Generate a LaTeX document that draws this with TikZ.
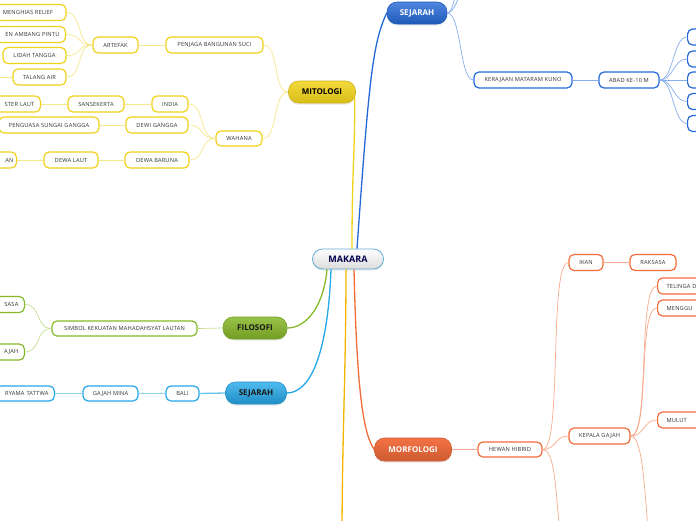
\documentclass[tikz,border=0pt]{standalone}
\usepackage{fontspec}
\setmainfont{Open Sans}
\newfontfamily\subf[LetterSpace=3]{Open Sans}
\usetikzlibrary{shadows}
\definecolor{yb}{HTML}{F0D21A}\definecolor{yl}{HTML}{F6E68A}
\definecolor{bb}{HTML}{2469D8}\definecolor{bl}{HTML}{86AEEC}
\definecolor{gb}{HTML}{86B828}\definecolor{gl}{HTML}{C4DE8C}
\definecolor{lb}{HTML}{24A8E8}\definecolor{ll}{HTML}{8DD3F3}
\definecolor{ob}{HTML}{F26B3A}\definecolor{ol}{HTML}{F7AA8C}
\definecolor{amb}{HTML}{F4B400}
\begin{document}
\begin{tikzpicture}[x=1pt,y=-1pt,
  sub/.style={draw, line width=1.2pt, fill=white, rounded corners=5pt, minimum height=16pt,
    inner xsep=4pt, inner ysep=0pt, font=\subf\fontsize{5.7}{6.5}\selectfont, text=black!80},
  cutl/.style={anchor=east, text width=#1, align=right, inner xsep=6pt},
  cutr/.style={anchor=west, text width=44pt, align=left, inner xsep=9pt},
  mainn/.style={rounded corners=10pt, minimum height=22pt, inner ysep=0pt,
    font=\bfseries\fontsize{8}{9}\selectfont, line width=0.6pt,
    drop shadow={opacity=0.18, shadow xshift=0pt, shadow yshift=-1.5pt}},
  lk/.style={line width=0.7pt},
  lc/.style={to path={.. controls +(-#1,0) and +(#1,0) .. (\tikztotarget)}},
  lc/.default=14,
  rc/.style={to path={.. controls +(#1,0) and +(-#1,0) .. (\tikztotarget)}},
  rc/.default=14]
\useasboundingbox (0,0) rectangle (696,520);
\coordinate (ambend) at (342,540);
\coordinate (s1) at (472,-22);
\coordinate (s2) at (468,-48);
\coordinate (m1) at (572,560);
\coordinate (m2) at (662,580);
% ---------- central node ----------
\node[draw=lb!80!black!70, line width=0.8pt, rounded corners=10pt, top color=white, bottom color=black!14,
  minimum width=71pt, minimum height=20pt, text=blue!30!black, font=\bfseries\fontsize{9}{10}\selectfont,
  drop shadow={opacity=0.15, shadow xshift=0pt, shadow yshift=-1.5pt}] (M) at (348,259) {MAKARA};
% ---------- main topics ----------
\node[mainn, draw=yb!85!black, top color=yb!85!white, bottom color=yb!90!black, minimum width=67pt, text=black] (MIT) at (322,92) {MITOLOGI};
\node[mainn, draw=bb!85!black, top color=bb!80!white, bottom color=bb!85!black, minimum width=60pt, text=white] (SEJ1) at (417,13) {SEJARAH};
\node[mainn, draw=gb!85!black, top color=gb!85!white, bottom color=gb!85!black, minimum width=64pt, text=black!90] (FIL) at (255,328) {FILOSOFI};
\node[mainn, draw=lb!85!black, top color=lb!80!white, bottom color=lb!85!black, minimum width=61pt, text=black!90] (SEJ2) at (256,393) {SEJARAH};
\node[mainn, draw=ob!85!black, top color=ob!95!white, bottom color=ob!85!black, minimum width=77pt, minimum height=23pt, text=white] (MOR) at (413,449.5) {MORFOLOGI};
% main branches
\draw[yb, line width=1.3pt] ([xshift=4pt]M.north) .. controls +(0,-80) and +(0,60) .. ([xshift=-1pt,yshift=-5pt]MIT.east);
\draw[bb, line width=1.3pt] ([xshift=9pt]M.north) .. controls +(12,-170) and +(-14,30) .. (SEJ1.west);
\draw[gb, line width=1.3pt] ([xshift=-21pt]M.south) .. controls +(-3,35) and +(20,0) .. (FIL.east);
\draw[lb, line width=1.3pt] ([xshift=-17pt]M.south) .. controls +(-3,80) and +(25,0) .. (SEJ2.east);
\draw[ob, line width=1.3pt] ([xshift=6pt]M.south) .. controls +(3,130) and +(-10,-15) .. (MOR.west);
\draw[amb, line width=1.3pt] ([xshift=-2pt]M.south) .. controls +(0,100) and +(0,-100) .. (ambend);
% ---------- MITOLOGI subtree ----------
\begin{scope}[every node/.style={sub, draw=yb}]
\node[minimum width=97pt] (pbs) at (214.5,45) {PENJAGA BANGUNAN SUCI};
\node[minimum width=45pt] (art) at (115.5,45) {ARTEFAK};
\node[minimum width=76pt] (mr) at (28,12.5) {MENGHIAS RELIEF};
\node[cutl=70pt] (eap) at (66,34.5) {EN AMBANG PINTU};
\node[minimum width=63pt] (lt) at (34.5,55.5) {LIDAH TANGGA};
\node[minimum width=53pt] (ta) at (39.5,77) {TALANG AIR};
\node[minimum width=46pt, minimum height=15pt] (wah) at (239,138.5) {WAHANA};
\node[minimum width=36pt] (ind) at (170,104) {INDIA};
\node[minimum width=56pt] (san) at (96,104) {SANSEKERTA};
\node[cutl=50pt] (stl) at (41,104) {STER LAUT};
\node[minimum width=62pt] (dg) at (157,125) {DEWI GANGGA};
\node[minimum width=100pt] (psg) at (49,125) {PENGUASA SUNGAI GANGGA};
\node[minimum width=64pt] (db) at (157,160) {DEWA BARUNA};
\node[minimum width=54pt] (dl) at (71,160) {DEWA LAUT};
\node[cutl=30pt, inner xsep=3pt] (an) at (17,160) {AN};
\end{scope}
\coordinate (tlx) at (-12,77);
\begin{scope}[yl, lk]
\draw (MIT.west) to[lc=16] (pbs.east);
\draw (MIT.west) to[lc=16] (wah.east);
\draw (pbs.west) -- (art.east);
\draw (art.west) to[lc=16] (mr.east);
\draw (art.west) to[lc=16] (eap.east);
\draw (art.west) to[lc=16] (lt.east);
\draw (art.west) to[lc=16] (ta.east);
\draw (ta.west) -- (tlx);
\draw (wah.west) to[lc=16] (ind.east);
\draw (wah.west) to[lc=16] (dg.east);
\draw (wah.west) to[lc=16] (db.east);
\draw (ind.west) -- (san.east);
\draw (san.west) -- (stl.east);
\draw (dg.west) -- (psg.east);
\draw (db.west) -- (dl.east);
\draw (dl.west) -- (an.east);
\end{scope}
% ---------- FILOSOFI subtree ----------
\begin{scope}[every node/.style={sub, draw=gb}]
\node[minimum width=145pt, minimum height=15pt] (skml) at (124.5,328.5) {SIMBOL KEKUATAN MAHADAHSYAT LAUTAN};
\node[cutl=40pt] (sasa) at (25,304.5) {SASA};
\node[cutl=40pt] (ajah) at (25,352) {AJAH};
\end{scope}
\begin{scope}[gl, lk]
\draw (FIL.west) -- (skml.east);
\draw (skml.west) to[lc=16] (sasa.east);
\draw (skml.west) to[lc=16] (ajah.east);
\end{scope}
% ---------- SEJARAH (bottom) subtree ----------
\begin{scope}[every node/.style={sub, draw=lb, minimum height=15pt}]
\node[minimum width=33pt] (bali) at (182.5,393.5) {BALI};
\node[minimum width=55pt] (gm) at (110.5,393.5) {GAJAH MINA};
\node[cutl=64pt] (rt) at (55,393.5) {RYAMA TATTWA};
\end{scope}
\draw[lb!70!white, line width=1.3pt] (SEJ2.west) -- (bali.east);
\draw[ll, lk] (bali.west) -- (gm.east);
\draw[ll, lk] (gm.west) -- (rt.east);
% ---------- SEJARAH (top) subtree ----------
\begin{scope}[every node/.style={sub, draw=bb}]
\node[minimum width=98pt] (kmk) at (523,80) {KERAJAAN MATARAM KUNO};
\node[minimum width=60pt] (abad) at (629,80) {ABAD KE-10 M};
\node[minimum width=30pt, anchor=west] (b1) at (687,37) {};
\node[minimum width=30pt, anchor=west] (b2) at (687,59) {};
\node[minimum width=30pt, anchor=west] (b3) at (687,80) {};
\node[minimum width=30pt, anchor=west] (b4) at (687,101.5) {};
\node[minimum width=30pt, anchor=west] (b5) at (687,123.5) {};
\end{scope}
\begin{scope}[bl, lk]
\draw (SEJ1.east) to[rc=14] (kmk.west);
\draw (SEJ1.east) to[rc=10] (s1);
\draw (SEJ1.east) to[rc=10] (s2);
\draw (kmk.east) -- (abad.west);
\foreach \b in {b1,b2,b3,b4,b5} \draw (abad.east) to[rc=14] (\b.west);
\end{scope}
% ---------- MORFOLOGI subtree ----------
\begin{scope}[every node/.style={sub, draw=ob}]
\node[minimum width=64pt, minimum height=15pt] (hh) at (510,449.5) {HEWAN HIBRID};
\node[minimum width=61pt] (kg) at (599.5,436) {KEPALA GAJAH};
\node[minimum width=34pt] (ikan) at (586,262.5) {IKAN};
\node[minimum width=46pt] (rak) at (653,262.5) {RAKSASA};
\node[cutr] (tel) at (657,286) {TELINGA D};
\node[cutr] (meng) at (657,308) {MENGGU};
\node[cutr] (mul) at (657,420) {MULUT};
\end{scope}
\draw[ol, line width=1.5pt] (MOR.east) -- (hh.west);
\begin{scope}[ol, lk]
\draw (hh.east) to[rc=20] (ikan.west);
\draw (hh.east) to[rc=14] (kg.west);
\draw (hh.east) to[rc=20] (m1);
\draw (ikan.east) -- (rak.west);
\draw (kg.east) to[rc=20] (tel.west);
\draw (kg.east) to[rc=20] (meng.west);
\draw (kg.east) to[rc=14] (mul.west);
\draw (kg.east) to[rc=20] (m2);
\end{scope}
\end{tikzpicture}
\end{document}
